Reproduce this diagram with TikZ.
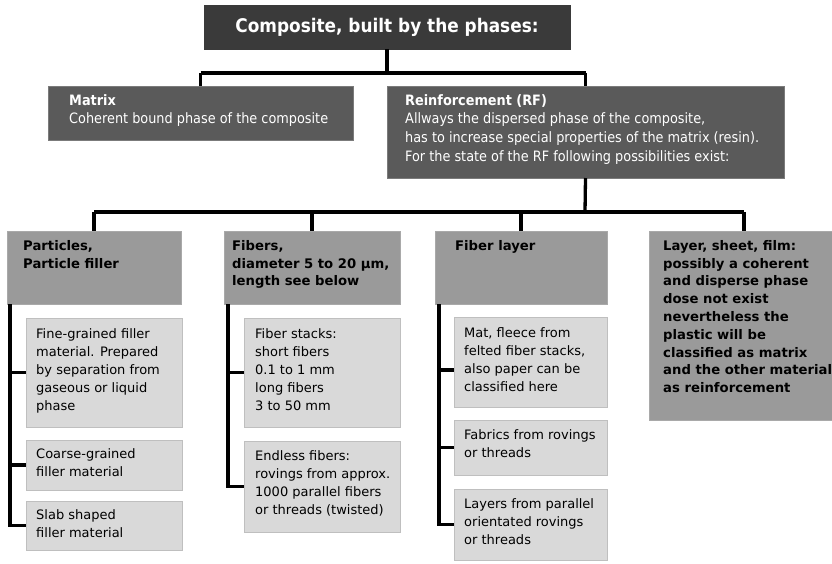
\documentclass[tikz,border=0pt]{standalone}
\usepackage{fontspec}
\setmainfont{DejaVu Sans}
\newfontfamily\condfont{DejaVu Sans Condensed}
\usetikzlibrary{calc}
\definecolor{cTop}{HTML}{3A3A3A}
\definecolor{cMid}{HTML}{5A5A5A}
\definecolor{cLvl}{HTML}{9A9A9A}
\definecolor{cSub}{HTML}{D9D9D9}
\definecolor{cSubB}{HTML}{BFBFBF}
\begin{document}
\begin{tikzpicture}[x=1pt,y=-1pt,
  box/.style={anchor=north west, inner sep=0pt, outer sep=0pt},
  topbox/.style={box, fill=cTop, draw=cTop},
  midbox/.style={box, fill=cMid, draw=cMid!80!white},
  lvlbox/.style={box, fill=cLvl, draw=cLvl!85!white},
  subbox/.style={box, fill=cSub, draw=cSubB, line width=1pt},
  txt/.style={anchor=north west, inner sep=0pt, align=left},
  midtxt/.style={txt, text=white, font=\condfont\fontsize{14.3}{18.8}\selectfont},
  lvltxt/.style={txt, font=\bfseries\fontsize{13.2}{17.8}\selectfont},
  subtxt/.style={txt, font=\fontsize{13}{18}\selectfont},
  conn/.style={line width=3.3pt, black}]
\useasboundingbox (0,0) rectangle (832,563);
\fill[white] (0,0) rectangle (832,563);

% level 1
\node[topbox, minimum width=366, minimum height=44] (top) at (204,5) {};
\node[anchor=center, inner sep=0pt, text=white, font=\condfont\bfseries\fontsize{18.8}{22}\selectfont] (topT) at (top.center) {Composite, built by the phases:};

% level 2
\node[midbox, minimum width=305, minimum height=54] (mat) at (48,86) {};
\node[midtxt] (matT) at (69,94) {\textbf{Matrix}\\Coherent bound phase of the composite};
\node[midbox, minimum width=397, minimum height=92] (rf) at (387,86) {};
\node[midtxt] (rfT) at (405,94) {\textbf{Reinforcement (RF)}\\Allways the dispersed phase of the composite,\\has to increase special properties of the matrix (resin).\\For the state of the RF following possibilities exist:};

% level 3
\node[lvlbox, minimum width=174, minimum height=73] (par) at (7,231) {};
\node[lvltxt] (parT) at (23,240) {Particles,\\Particle filler};
\node[lvlbox, minimum width=176, minimum height=73] (fib) at (224,231) {};
\node[lvltxt] (fibT) at (232,240) {Fibers,\\diameter 5 to 20 µm,\\length see below};
\node[lvlbox, minimum width=172, minimum height=73] (fl) at (435,231) {};
\node[lvltxt] (flT) at (455,240) {Fiber layer};
\node[lvlbox, minimum width=190, minimum height=189] (ls) at (649,231) {};
\node[lvltxt] (lsT) at (663,240) {Layer, sheet, film:\\possibly a coherent\\and disperse phase\\dose not exist\\nevertheless the\\plastic will be\\classified as matrix\\and the other material\\as reinforcement};

% sub boxes: particles
\node[subbox, minimum width=156, minimum height=109] (p1) at (26,318) {};
\node[subtxt] (p1T) at (36,328) {Fine-grained filler\\material. Prepared\\by separation from\\gaseous or liquid\\phase};
\node[subbox, minimum width=156, minimum height=50] (p2) at (26,440) {};
\node[subtxt] (p2T) at (36,448) {Coarse-grained\\filler material};
\node[subbox, minimum width=156, minimum height=49] (p3) at (26,501) {};
\node[subtxt] (p3T) at (36,509) {Slab shaped\\filler material};

% sub boxes: fibers
\node[subbox, minimum width=156, minimum height=109] (f1) at (244,318) {};
\node[subtxt] (f1T) at (255,328) {Fiber stacks:\\short fibers\\0.1 to 1 mm\\long fibers\\3 to 50 mm};
\node[subbox, minimum width=156, minimum height=91] (f2) at (244,441) {};
\node[subtxt] (f2T) at (255,450) {Endless fibers:\\rovings from approx.\\1000 parallel fibers\\or threads (twisted)};

% sub boxes: fiber layer
\node[subbox, minimum width=153, minimum height=90] (l1) at (454,317) {};
\node[subtxt] (l1T) at (464,327) {Mat, fleece from\\felted fiber stacks,\\also paper can be\\classified here};
\node[subbox, minimum width=153, minimum height=55] (l2) at (454,420) {};
\node[subtxt] (l2T) at (464,429) {Fabrics from rovings\\or threads};
\node[subbox, minimum width=153, minimum height=71] (l3) at (454,489) {};
\node[subtxt] (l3T) at (464,498) {Layers from parallel\\orientated rovings\\or threads};

% connectors level 1 -> 2
\coordinate (j1) at (387,73);
\draw[conn] (top.south) -- (j1);
\draw[conn] (mat.north |- j1) -- (rf.north |- j1);
\draw[conn] (mat.north |- j1) -- (mat.north);
\draw[conn] (rf.north |- j1) -- (rf.north);

% connectors level 2 -> 3
\coordinate (j2) at (585,212);
\draw[conn] (rf.south) -- (j2);
\draw[conn] (par.north |- j2) -- (ls.north |- j2);
\draw[conn] (par.north |- j2) -- (par.north);
\draw[conn] (fib.north |- j2) -- (fib.north);
\draw[conn] (fl.north |- j2) -- (fl.north);
\draw[conn] (ls.north |- j2) -- (ls.north);

% connectors to sub boxes
\coordinate (pl) at (10,304);
\draw[conn] (pl) |- (p3.west);
\draw[conn] (p1.west -| pl) -- (p1.west);
\draw[conn] (p2.west -| pl) -- (p2.west);
\coordinate (fl0) at (228,304);
\draw[conn] (fl0) |- (f2.west);
\draw[conn] (f1.west -| fl0) -- (f1.west);
\coordinate (ll) at (439,304);
\draw[conn] (ll) |- (l3.west);
\draw[conn] ([yshift=-8pt]l1.west -| ll) -- ([yshift=-8pt]l1.west);
\draw[conn] (l2.west -| ll) -- (l2.west);
\end{tikzpicture}
\end{document}
